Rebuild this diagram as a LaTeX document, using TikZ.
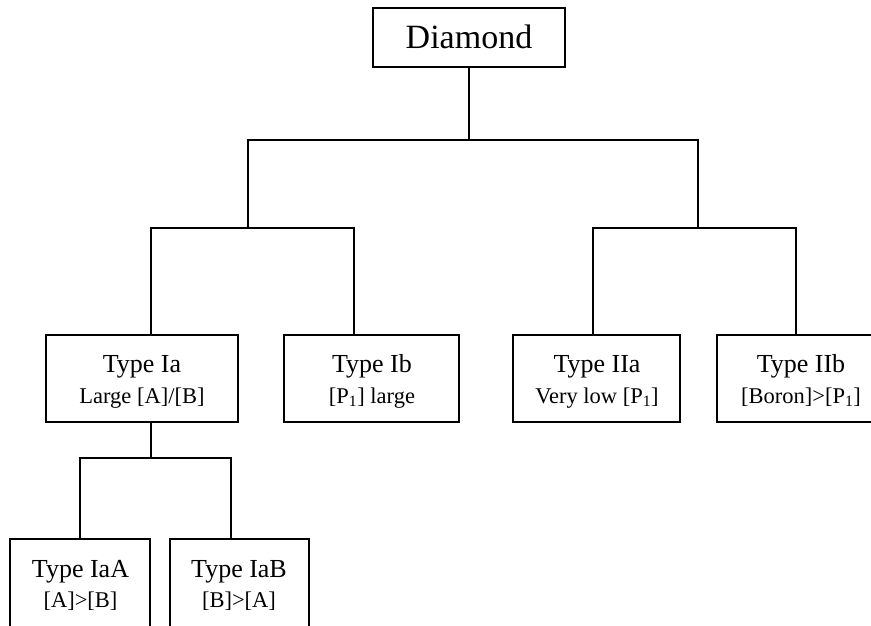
\documentclass[tikz,border=0pt]{standalone}
\usepackage{fontspec}
\setmainfont{Liberation Serif}
\begin{document}
\begin{tikzpicture}[x=1pt,y=-1pt,
  box/.style={draw=black,line width=1.2pt,rectangle,inner sep=0pt,outer sep=0pt},
  bigtxt/.style={anchor=base,inner sep=0pt,font=\fontsize{34}{40}\selectfont},
  headtxt/.style={anchor=base,inner sep=0pt,font=\fontsize{26}{31}\selectfont},
  subtxt/.style={anchor=base,inner sep=0pt,font=\fontsize{22.5}{27}\selectfont},
  link/.style={draw=black,line width=1.2pt}]
\useasboundingbox (0,0) rectangle (871,625);
\clip (0,0) rectangle (871,625);

% root
\node[box,minimum width=192pt,minimum height=59pt] (dia) at (469,37.5) {};
\node[bigtxt] (diat) at (469,48) {Diamond};

% second level
\node[box,minimum width=192pt,minimum height=87pt] (ia) at (142,378.5) {};
\node[headtxt] (ia1) at (142,372) {Type Ia};
\node[subtxt] (ia2) at (142,403) {Large [A]/[B]};

\node[box,minimum width=175pt,minimum height=87pt] (ib) at (371.5,378.5) {};
\node[headtxt] (ib1) at (372,372) {Type Ib};
\node[subtxt] (ib2) at (372,403) {[P\textsubscript{1}] large};

\node[box,minimum width=167pt,minimum height=87pt] (iia) at (596.5,378.5) {};
\node[headtxt] (iia1) at (597,372) {Type IIa};
\node[subtxt] (iia2) at (597,403) {Very low [P\textsubscript{1}]};

\node[box,minimum width=168pt,minimum height=87pt] (iib) at (801,378.5) {};
\node[headtxt] (iib1) at (801,372) {Type IIb};
\node[subtxt] (iib2) at (801,403) {[Boron]>[P\textsubscript{1}]};

% third level
\node[box,minimum width=140pt,minimum height=100pt] (iaa) at (80,589) {};
\node[headtxt] (iaa1) at (80.5,577) {Type IaA};
\node[subtxt] (iaa2) at (80.5,607) {[A]>[B]};

\node[box,minimum width=139pt,minimum height=100pt] (iab) at (239.5,589) {};
\node[headtxt] (iab1) at (239,577) {Type IaB};
\node[subtxt] (iab2) at (239,607) {[B]>[A]};

% junction points
\coordinate (jTop) at (469,140);
\coordinate (jL) at (248,228);
\coordinate (jR) at (698,228);
\coordinate (jIa) at (151,458);

% connectors
\draw[link] (dia.south) -- (jTop);
\draw[link] (jL) |- (jTop) -| (jR);
\draw[link] ([xshift=9pt]ia.north) |- (jL) -| ([xshift=-17.5pt]ib.north);
\draw[link] ([xshift=-3.5pt]iia.north) |- (jR) -| ([xshift=-5pt]iib.north);
\draw[link] ([xshift=9pt]ia.south) -- (jIa);
\draw[link] (iaa.north) |- (jIa) -| ([xshift=-8.5pt]iab.north);
\end{tikzpicture}
\end{document}
